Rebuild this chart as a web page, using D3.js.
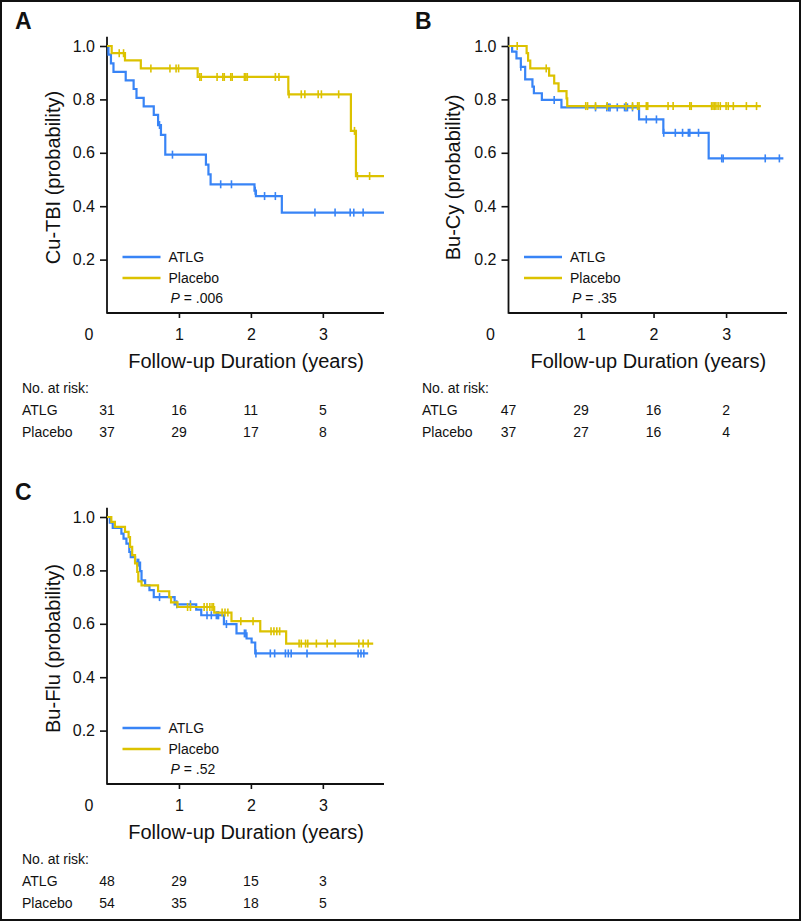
<!DOCTYPE html>
<html><head><meta charset="utf-8">
<script src="https://cdn.jsdelivr.net/npm/d3@7"></script>
<style>body{margin:0;background:#fff} svg{display:block}</style>
</head><body><svg id="c" width="801" height="921"></svg>
<script>
// ---------- DATA ----------
const groupNames = ["ATLG", "Placebo"];
const xTickValues = [1, 2, 3];
const yTickValues = [0.2, 0.4, 0.6, 0.8, 1.0];
const riskTimes = [0, 1, 2, 3];

// Panel A: Cu-TBI
const aAtlgSteps = [[0,1],[0.02,0.968],[0.055,0.935],[0.09,0.903],[0.26,0.871],[0.37,0.839],[0.41,0.806],[0.51,0.774],[0.65,0.742],[0.71,0.704],[0.75,0.667],[0.81,0.593],[1.375,0.556],[1.41,0.519],[1.44,0.482],[2.05,0.458],[2.07,0.438],[2.43,0.376]];
const aAtlgCensor = [0.73,0.91,1.58,1.73,2.06,2.19,2.34,2.89,3.17,3.38,3.43,3.56];
const aAtlgEnd = 3.85;
const aPlaceboSteps = [[0,1],[0.065,0.973],[0.25,0.946],[0.47,0.916],[1.26,0.884],[2.52,0.819],[3.39,0.682],[3.46,0.513]];
const aPlaceboCensor = [0.17,0.23,0.61,0.875,0.96,0.995,1.29,1.31,1.53,1.61,1.63,1.72,1.74,1.91,1.93,1.95,2.34,2.39,2.53,2.70,2.75,2.935,2.98,3.22,3.44,3.48,3.65];
const aPlaceboEnd = 3.85;
const aRiskAtlg = [31, 16, 11, 5];
const aRiskPlacebo = [37, 29, 17, 8];

// Panel B: Bu-Cy
const bAtlgSteps = [[0,1],[0.05,0.979],[0.11,0.954],[0.17,0.922],[0.23,0.875],[0.33,0.848],[0.35,0.823],[0.46,0.798],[0.73,0.770],[1.80,0.725],[2.135,0.675],[2.76,0.579]];
const bAtlgCensor = [0.17,0.63,1.20,1.355,1.38,1.40,1.50,1.60,1.62,1.64,1.71,1.90,2.04,2.14,2.30,2.40,2.48,2.50,2.62,2.94,2.96,3.54,3.735];
const bAtlgEnd = 3.79;
const bPlaceboSteps = [[0,1],[0.25,0.973],[0.27,0.945],[0.30,0.916],[0.56,0.889],[0.63,0.860],[0.69,0.831],[0.80,0.804],[0.81,0.775]];
const bPlaceboCensor = [0.12,0.52,1.065,1.09,1.20,1.36,1.62,1.71,1.78,1.80,1.90,1.92,2.20,2.27,2.50,2.52,2.80,2.82,2.84,2.86,2.89,2.92,3.00,3.03,3.10,3.28,3.42];
const bPlaceboEnd = 3.48;
const bRiskAtlg = [47, 29, 16, 2];
const bRiskPlacebo = [37, 27, 16, 4];

// Panel C: Bu-Flu
const cAtlgSteps = [[0,1],[0.04,0.979],[0.08,0.959],[0.20,0.938],[0.23,0.919],[0.27,0.900],[0.31,0.869],[0.33,0.850],[0.39,0.829],[0.46,0.797],[0.48,0.763],[0.53,0.744],[0.59,0.726],[0.65,0.700],[0.94,0.673],[1.24,0.653],[1.31,0.632],[1.625,0.599],[1.80,0.564],[1.94,0.545],[2.01,0.530],[2.06,0.489]];
const cAtlgCensor = [0.42,0.44,0.73,0.97,1.16,1.39,1.45,1.52,1.54,1.55,1.66,1.91,1.93,2.07,2.27,2.33,2.48,2.52,2.56,2.78,3.49,3.53,3.57];
const cAtlgEnd = 3.63;
const cPlaceboSteps = [[0,1],[0.06,0.982],[0.11,0.963],[0.25,0.944],[0.30,0.925],[0.32,0.888],[0.35,0.857],[0.39,0.826],[0.42,0.794],[0.435,0.759],[0.48,0.744],[0.71,0.722],[0.865,0.700],[0.89,0.680],[0.98,0.663],[1.49,0.642],[1.73,0.610],[2.13,0.572],[2.49,0.526]];
const cPlaceboCensor = [1.12,1.16,1.35,1.39,1.43,1.46,1.48,1.60,1.64,1.68,1.86,2.03,2.28,2.32,2.36,2.40,2.67,2.70,2.76,2.79,2.91,3.06,3.17,3.50,3.56,3.63];
const cPlaceboEnd = 3.70;
const cRiskAtlg = [48, 29, 15, 3];
const cRiskPlacebo = [54, 35, 18, 5];

// ---------- STYLE / LAYOUT ----------
const colors = {ATLG: "#3884f6", Placebo: "#dcc200"};
const sansFont = "'Liberation Sans', Arial, Helvetica, sans-serif";

const panels = [
  {letter:"A", yTitle:"Cu-TBI (probability)", p:".006", x0:107, x1:384, xMax:3.85, yT:46, yB:313,
   series:[{name:"ATLG", steps:aAtlgSteps, censor:aAtlgCensor, end:aAtlgEnd},
           {name:"Placebo", steps:aPlaceboSteps, censor:aPlaceboCensor, end:aPlaceboEnd}],
   risk:[aRiskAtlg, aRiskPlacebo], left:0},
  {letter:"B", yTitle:"Bu-Cy (probability)", p:".35", x0:508.5, x1:787, xMax:3.84, yT:46, yB:313,
   series:[{name:"ATLG", steps:bAtlgSteps, censor:bAtlgCensor, end:bAtlgEnd},
           {name:"Placebo", steps:bPlaceboSteps, censor:bPlaceboCensor, end:bPlaceboEnd}],
   risk:[bRiskAtlg, bRiskPlacebo], left:400},
  {letter:"C", yTitle:"Bu-Flu (probability)", p:".52", x0:107, x1:384, xMax:3.85, yT:517, yB:784,
   series:[{name:"ATLG", steps:cAtlgSteps, censor:cAtlgCensor, end:cAtlgEnd},
           {name:"Placebo", steps:cPlaceboSteps, censor:cPlaceboCensor, end:cPlaceboEnd}],
   risk:[cRiskAtlg, cRiskPlacebo], left:0}
];

const svg = d3.select("#c");
svg.append("rect").attr("x",1).attr("y",1).attr("width",799).attr("height",919)
  .attr("fill","#fff").attr("stroke","#111").attr("stroke-width",2);

function valueAt(steps, t) {
  let v = steps[0][1];
  for (const s of steps) { if (s[0] <= t) v = s[1]; }
  return v;
}

panels.forEach(p => {
  const g = svg.append("g");
  const x = d3.scaleLinear().domain([0, p.xMax]).range([p.x0, p.x1]);
  const y = d3.scaleLinear().domain([0, 1]).range([p.yB, p.yT]);

  // panel letter
  g.append("text").attr("x", p.left + 15).attr("y", p.yT - 17)
    .attr("font-family", sansFont).attr("font-weight", "bold").attr("font-size", 23)
    .attr("fill", "#111").text(p.letter);

  // y axis
  const yAxis = d3.axisLeft(y).tickValues(yTickValues).tickFormat(d3.format(".1f"))
    .tickSize(7).tickPadding(5).tickSizeOuter(0);
  const ya = g.append("g").attr("transform", `translate(${p.x0},0)`).call(yAxis);
  ya.select(".domain").remove();
  ya.selectAll("line").attr("stroke", "#111").attr("stroke-width", 1.6);
  ya.selectAll("text").attr("font-family", sansFont).attr("font-size", 16).attr("fill", "#111");

  // x axis
  const xAxis = d3.axisBottom(x).tickValues(xTickValues).tickFormat(d3.format("d"))
    .tickSize(5).tickPadding(11).tickSizeOuter(0);
  const xa = g.append("g").attr("transform", `translate(0,${p.yB})`).call(xAxis);
  xa.select(".domain").remove();
  xa.selectAll("line").attr("stroke", "#111").attr("stroke-width", 1.6);
  xa.selectAll("text").attr("font-family", sansFont).attr("font-size", 16).attr("fill", "#111");
  // origin label
  g.append("text").attr("x", p.x0 - 18).attr("y", p.yB + 27).attr("text-anchor", "middle")
    .attr("font-family", sansFont).attr("font-size", 16).attr("fill", "#111").text("0");

  // axis lines
  g.append("line").attr("x1", p.x0).attr("x2", p.x0).attr("y1", y(1.035)).attr("y2", p.yB + 0.8)
    .attr("stroke", "#111").attr("stroke-width", 1.8);
  g.append("line").attr("x1", p.x0).attr("x2", p.x1).attr("y1", p.yB).attr("y2", p.yB)
    .attr("stroke", "#111").attr("stroke-width", 1.8);

  // axis titles
  g.append("text").attr("x", (p.x0 + p.x1) / 2 + 0.5).attr("y", p.yB + 55).attr("text-anchor", "middle")
    .attr("font-family", sansFont).attr("font-size", 20).attr("fill", "#111")
    .text("Follow-up Duration (years)");
  g.append("text").attr("transform", `translate(${p.left + 60},${(p.yT + p.yB) / 2 - 2}) rotate(-90)`)
    .attr("text-anchor", "middle").attr("font-family", sansFont).attr("font-size", 20)
    .attr("fill", "#111").text(p.yTitle);

  // curves
  const line = d3.line().x(d => x(d[0])).y(d => y(d[1])).curve(d3.curveStepAfter);
  p.series.forEach(s => {
    const pts = s.steps.concat([[s.end, s.steps[s.steps.length - 1][1]]]);
    g.append("path").datum(pts).attr("d", line).attr("fill", "none")
      .attr("stroke", colors[s.name]).attr("stroke-width", 2.2);
    g.selectAll(null).data(s.censor).enter().append("line")
      .attr("x1", d => x(d)).attr("x2", d => x(d))
      .attr("y1", d => y(valueAt(s.steps, d)) - 4).attr("y2", d => y(valueAt(s.steps, d)) + 4)
      .attr("stroke", colors[s.name]).attr("stroke-width", 1.6);
  });

  // legend
  const lx = p.x0 + 15.5;
  groupNames.forEach((n, i) => {
    const ly = p.yB - 56 + i * 21;
    g.append("line").attr("x1", lx).attr("x2", lx + 38).attr("y1", ly).attr("y2", ly)
      .attr("stroke", colors[n]).attr("stroke-width", 2.4);
    g.append("text").attr("x", lx + 46).attr("y", ly + 5).attr("font-family", sansFont)
      .attr("font-size", 14).attr("fill", "#111").text(n);
  });
  const pt = g.append("text").attr("x", lx + 48).attr("y", p.yB - 10).attr("font-family", sansFont)
    .attr("font-size", 14).attr("fill", "#111");
  pt.append("tspan").attr("font-style", "italic").text("P");
  pt.append("tspan").text(" = " + p.p);

  // number at risk
  const ry = p.yB + 80;
  g.append("text").attr("x", p.left + 22).attr("y", ry).attr("font-family", sansFont)
    .attr("font-size", 14).attr("fill", "#111").text("No. at risk:");
  groupNames.forEach((n, i) => {
    const yy = ry + 22 + i * 21.5;
    g.append("text").attr("x", p.left + 22).attr("y", yy).attr("font-family", sansFont)
      .attr("font-size", 14).attr("fill", "#111").text(n);
    g.selectAll(null).data(riskTimes).enter().append("text")
      .attr("x", d => x(d)).attr("y", yy).attr("text-anchor", "middle")
      .attr("font-family", sansFont).attr("font-size", 14).attr("fill", "#111")
      .text((d, j) => p.risk[i][j]);
  });
});
</script>
</body></html>
